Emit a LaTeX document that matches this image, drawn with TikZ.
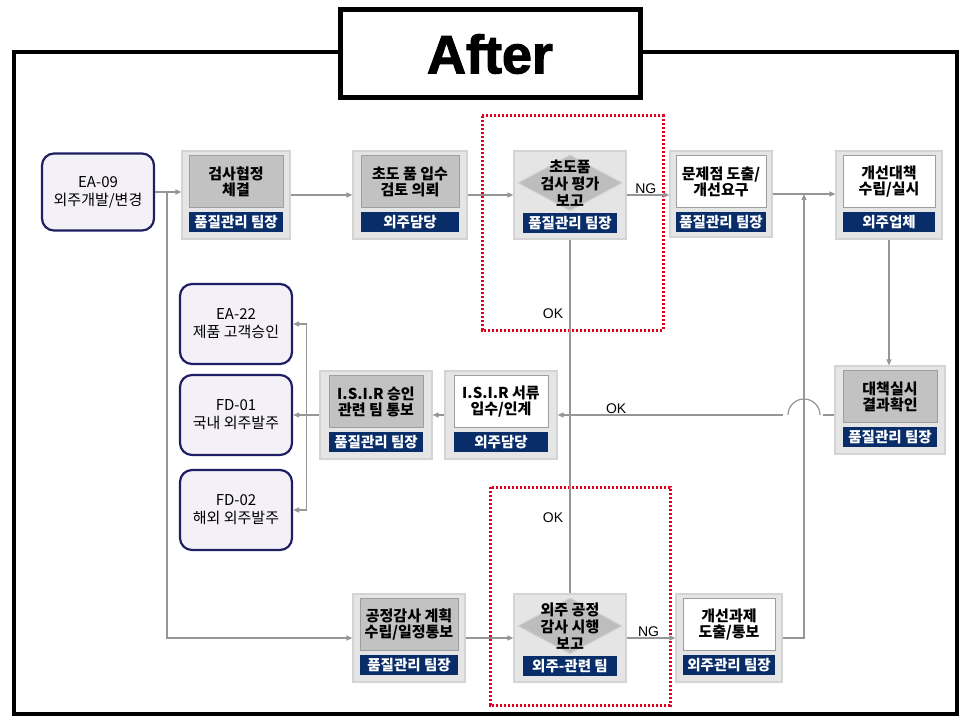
\documentclass[tikz,border=0pt]{standalone}
\usepackage{fontspec}
\setmainfont{Liberation Sans}
\newfontfamily\kr{Noto Sans CJK KR}
\newfontfamily\titlefont[FakeBold=2]{Liberation Sans}
\usetikzlibrary{positioning,arrows.meta,calc,shapes.geometric}
\definecolor{navy}{RGB}{8,45,105}
\definecolor{docline}{RGB}{30,30,100}
\definecolor{docfill}{RGB}{244,240,247}
\definecolor{wire}{RGB}{150,150,150}
\definecolor{redbox}{RGB}{225,0,30}
\tikzset{
  outer/.style={draw=black!17, fill=black!10, line width=1.2pt, minimum width=110pt, minimum height=88pt, inner sep=0pt},
  inbox/.style={draw=black!38, line width=1pt, minimum width=94pt, minimum height=52pt, inner sep=0pt, align=center, font=\kr\bfseries\fontsize{15}{16}\selectfont},
  greybox/.style={inbox, fill=black!24},
  whitebox/.style={inbox, fill=white},
  decide/.style={diamond, draw=black!18, fill=black!26, line width=1pt, minimum width=104pt, minimum height=56pt, inner sep=0pt},
  dtext/.style={align=center, inner sep=0pt, font=\kr\bfseries\fontsize{15}{17}\selectfont},
  role/.style={fill=navy, text=white, minimum width=94pt, minimum height=20pt, inner sep=0pt, font=\kr\bfseries\fontsize{14.5}{15}\selectfont},
  doc/.style={draw=docline, fill=docfill, line width=2.2pt, rounded corners=12pt, minimum width=112pt, minimum height=80pt, align=center, font=\kr\fontsize{15}{18}\selectfont},
  conn/.style={draw=wire, line width=1.2pt, -{Triangle[length=6pt,width=5pt]}},
  wline/.style={draw=wire, line width=1.2pt},
  lbl/.style={font=\fontsize{14}{14}\selectfont, inner sep=1pt},
  hilite/.style={draw=redbox, line width=3pt, dash pattern=on 2.4pt off 1.6pt}
}
\begin{document}
\begin{tikzpicture}[x=1pt, y=-1pt]
  \useasboundingbox (0,0) rectangle (965,719);
  % frame and title
  \draw[line width=4.5pt] (14,52) rectangle (957,714);
  \node[draw, line width=5pt, fill=white, minimum width=300pt, minimum height=88pt,
        font=\titlefont\bfseries\fontsize{54}{54}\selectfont] (title) at (490,54) {After};

  % red check areas
  \draw[hilite] (482,116) rectangle (663,330);
  \draw[hilite] (490,487) rectangle (670,705);

  % document boxes
  \node[doc, minimum height=77pt] (ea09) at (98,192) {EA-09\\외주개발/변경};
  \node[doc] (ea22) at (236,324) {EA-22\\제품 고객승인};
  \node[doc] (fd01) at (236,415) {FD-01\\국내 외주발주};
  \node[doc] (fd02) at (236,510) {FD-02\\해외 외주발주};

  % top row
  \node[outer, minimum width=108pt] (chk) at (236,195) {};
  \node[greybox, below=5pt of chk.north] (chkIn) {검사협정\\체결};
  \node[role, below=3pt of chkIn] (chkRole) {품질관리 팀장};

  \node[outer, minimum width=114pt] (req) at (410,195) {};
  \node[greybox, minimum width=98pt, below=5pt of req.north] (reqIn) {초도 품 입수\\검토 의뢰};
  \node[role, minimum width=98pt, below=3pt of reqIn] (reqRole) {외주담당};

  \node[outer, minimum width=112pt] (eval) at (570,195) {};
  \node[decide, below=4pt of eval.north] (evalD) {};
  \node[dtext] (evalT) at (evalD) {초도품\\검사 평가\\보고};
  \node[role, below=1pt of evalD] (evalRole) {품질관리 팀장};

  \node[outer, minimum width=102pt, minimum height=86pt] (prob) at (721,194) {};
  \node[whitebox, minimum width=90pt, below=5pt of prob.north] (probIn) {문제점 도출/\\개선요구};
  \node[role, minimum width=90pt, below=3pt of probIn] (probRole) {품질관리 팀장};

  \node[outer, minimum width=106pt] (plan) at (889,195) {};
  \node[whitebox, minimum width=92pt, below=5pt of plan.north] (planIn) {개선대책\\수립/실시};
  \node[role, minimum width=92pt, below=3pt of planIn] (planRole) {외주업체};

  % middle row
  \node[outer, minimum width=112pt] (isirA) at (376,415) {};
  \node[greybox, below=5pt of isirA.north] (isirAIn) {I.S.I.R 승인\\관련 팀 통보};
  \node[role, below=3pt of isirAIn] (isirARole) {품질관리 팀장};

  \node[outer, minimum width=112pt] (isirD) at (501,415) {};
  \node[whitebox, below=5pt of isirD.north] (isirDIn) {I.S.I.R 서류\\입수/인계};
  \node[role, below=3pt of isirDIn] (isirDRole) {외주담당};

  \node[outer, minimum width=110pt] (conf) at (890,410) {};
  \node[greybox, below=5pt of conf.north] (confIn) {대책실시\\결과확인};
  \node[role, below=3pt of confIn] (confRole) {품질관리 팀장};

  % bottom row
  \node[outer, minimum width=112pt] (audp) at (409,638) {};
  \node[greybox, minimum width=98pt, below=5pt of audp.north] (audpIn) {공정감사 계획\\수립/일정통보};
  \node[role, minimum width=98pt, below=3pt of audpIn] (audpRole) {품질관리 팀장};

  \node[outer, minimum width=112pt] (aud) at (570,638) {};
  \node[decide, below=4pt of aud.north] (audD) {};
  \node[dtext] (audT) at (audD) {외주 공정\\감사 시행\\보고};
  \node[role, below=1pt of audD] (audRole) {외주-관련 팀};

  \node[outer, minimum width=106pt] (imp) at (729,638) {};
  \node[whitebox, minimum width=92pt, below=5pt of imp.north] (impIn) {개선과제\\도출/통보};
  \node[role, minimum width=92pt, below=3pt of impIn] (impRole) {외주관리 팀장};

  % connectors
  \draw[conn] (ea09.east) -- (ea09.east -| chk.west);
  \coordinate (br) at ($(ea09.east)!0.45!(ea09.east -| chk.west)$);
  \draw[conn] (br) |- (audp.west);
  \draw[conn] (chk.east) -- (req.west);
  \draw[conn] (req.east) -- (eval.west);
  \draw[conn] (eval.east) -- node[above, lbl, pos=0.45] (ng1) {NG} (eval.east -| prob.west);
  \draw[conn] (prob.east) -- (prob.east -| plan.west);
  \coordinate (up) at ($(prob.east)!0.5!(prob.east -| plan.west)$);
  \draw[conn] (imp.east) -| (up);
  \draw[conn] (plan.south) -- (plan.south |- conf.north);
  \draw[wline] (eval.south) -- (aud.north);
  \node[lbl] (ok1) at (553,314) {OK};
  \node[lbl] (ok2) at (553,518) {OK};
  % OK line with jump over the riser
  \coordinate (jump) at (up |- isirD.east);
  \draw[wline] (conf.west |- isirD.east) -- ([xshift=19pt]jump);
  \draw[wline] ([xshift=16pt]jump) arc[start angle=0, end angle=180, radius=16pt];
  \draw[conn] ([xshift=-21pt]jump) -- node[above, lbl, pos=0.74] (ok3) {OK} (isirD.east);
  \draw[conn] (isirD.west) -- (isirA.east);
  \draw[conn] (isirA.west) -- (fd01.east);
  \coordinate (fan) at ($(isirA.west)!0.5!(fd01.east)$);
  \draw[conn] (fan) |- (ea22.east);
  \draw[conn] (fan) |- (fd02.east);
  \draw[conn] (audp.east) -- (aud.west);
  \draw[conn] (aud.east) -- node[above, lbl, pos=0.45] (ng2) {NG} (imp.west);
\end{tikzpicture}
\end{document}
